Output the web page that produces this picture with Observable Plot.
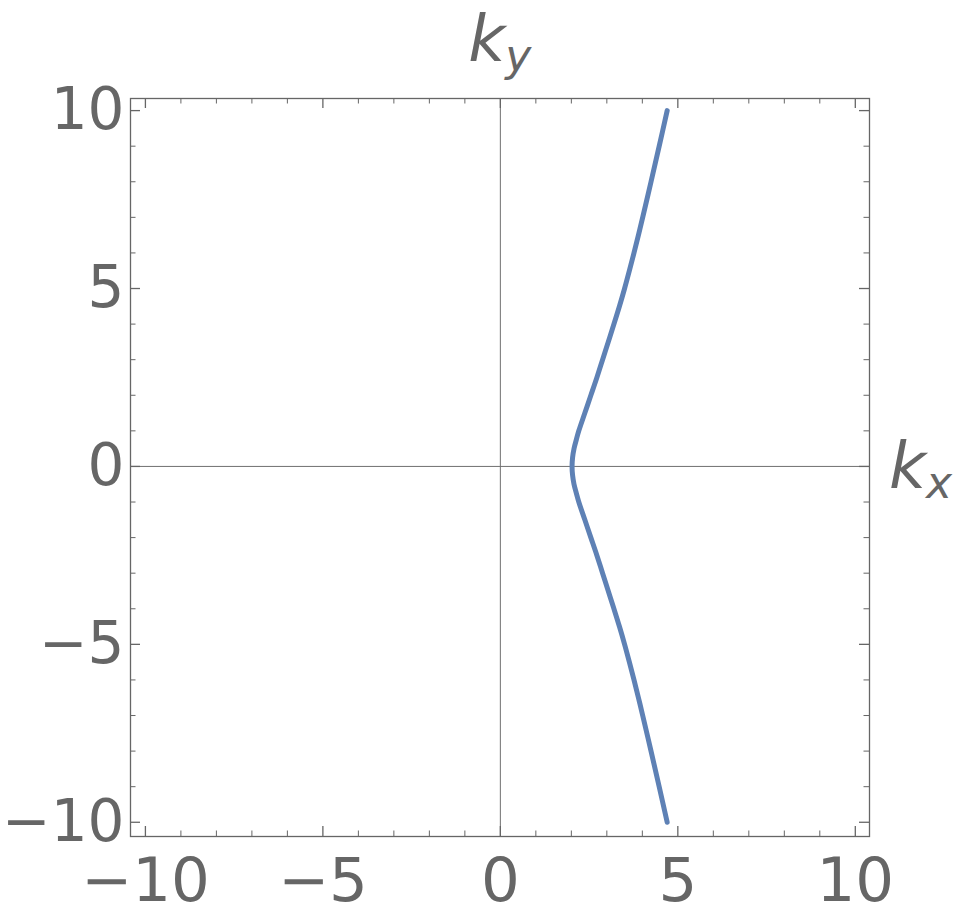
<!DOCTYPE html>
<html>
<head>
<meta charset="utf-8">
<script src="https://cdn.jsdelivr.net/npm/d3@7"></script>
<script src="https://cdn.jsdelivr.net/npm/@observablehq/plot@0.6"></script>
<style>
  html, body { margin: 0; padding: 0; background: #fff; }
</style>
</head>
<body>
<div id="chart"></div>
<script>
// Curve values (k_y, k_x)
const kyValues = [-10, -9, -8, -7, -6.5, -6, -5.5, -5, -4.5, -4, -3.5, -3, -2.5, -2, -1.5, -1, -0.75, -0.5, -0.25,
  0, 0.25, 0.5, 0.75, 1, 1.5, 2, 2.5, 3, 3.5, 4, 4.5, 5, 5.5, 6, 6.5, 7, 8, 9, 10];
const kxValues = [4.70, 4.475, 4.245, 4.01, 3.89, 3.765, 3.635, 3.50, 3.355, 3.20, 3.04, 2.88, 2.72, 2.55, 2.38, 2.21, 2.14, 2.075, 2.035,
  2.02, 2.035, 2.075, 2.14, 2.21, 2.38, 2.55, 2.72, 2.88, 3.04, 3.20, 3.355, 3.50, 3.635, 3.765, 3.89, 4.01, 4.245, 4.475, 4.70];

const majorTicks = [-10, -5, 0, 5, 10];
const minorTicks = [-9, -8, -7, -6, -4, -3, -2, -1, 1, 2, 3, 4, 6, 7, 8, 9];
const xLabel = {base: "k", sub: "x"};
const yLabel = {base: "k", sub: "y"};

const data = kyValues.map((ky, i) => ({ky, kx: kxValues[i]}));

const W = 960, H = 922;
const mTop = 98, mBottom = 86, mLeft = 130, mRight = 91;
const frameH = H - mTop - mBottom;
const frameW = W - mLeft - mRight;
const majorLen = 10, minorLen = 5.5;
const grey = "#666666";

const plot = Plot.plot({
  width: W,
  height: H,
  marginTop: mTop,
  marginBottom: mBottom,
  marginLeft: mLeft,
  marginRight: mRight,
  style: {fontFamily: "DejaVu Sans", fontSize: "61px", color: grey, background: "#fff"},
  x: {domain: [-10.42, 10.4]},
  y: {domain: [-10.4, 10.34]},
  marks: [
    Plot.ruleX([0], {stroke: "#707070", strokeWidth: 1}),
    Plot.ruleY([0], {stroke: "#707070", strokeWidth: 1}),
    // inward ticks: bottom & top
    Plot.tickX(majorTicks, {x: d => d, insetTop: frameH - majorLen, stroke: grey, strokeWidth: 1.3}),
    Plot.tickX(minorTicks, {x: d => d, insetTop: frameH - minorLen, stroke: grey, strokeWidth: 1}),
    Plot.tickX(majorTicks, {x: d => d, insetBottom: frameH - majorLen, stroke: grey, strokeWidth: 1.3}),
    Plot.tickX(minorTicks, {x: d => d, insetBottom: frameH - minorLen, stroke: grey, strokeWidth: 1}),
    // inward ticks: left & right
    Plot.tickY(majorTicks, {y: d => d, insetRight: frameW - majorLen, stroke: grey, strokeWidth: 1.3}),
    Plot.tickY(minorTicks, {y: d => d, insetRight: frameW - minorLen, stroke: grey, strokeWidth: 1}),
    Plot.tickY(majorTicks, {y: d => d, insetLeft: frameW - majorLen, stroke: grey, strokeWidth: 1.3}),
    Plot.tickY(minorTicks, {y: d => d, insetLeft: frameW - minorLen, stroke: grey, strokeWidth: 1}),
    Plot.axisX(majorTicks, {anchor: "bottom", tickSize: 0, tickPadding: 21, label: null, fill: grey}),
    Plot.axisY(majorTicks, {anchor: "left", tickSize: 0, tickPadding: 6, label: null, fill: grey, fontSize: 58}),
    Plot.frame({stroke: grey, strokeWidth: 1.3}),
    Plot.line(data, {x: "kx", y: "ky", curve: "catmull-rom", stroke: "#5E81B5", strokeWidth: 5})
  ]
});

document.getElementById("chart").appendChild(plot);

const xs = plot.scale("x"), ys = plot.scale("y");
const svg = d3.select(plot);

function addLabel(lbl, x, y, anchor) {
  const t = svg.append("text")
    .attr("x", x).attr("y", y)
    .attr("text-anchor", anchor)
    .attr("fill", grey)
    .style("font-family", "DejaVu Sans")
    .style("font-style", "italic")
    .style("font-size", "64px");
  t.append("tspan").text(lbl.base);
  t.append("tspan").attr("dy", 10).style("font-size", "44px").text(lbl.sub);
}

addLabel(yLabel, xs.apply(0), 61, "middle");
addLabel(xLabel, W - mRight + 20, ys.apply(0) + 22, "start");
</script>
</body>
</html>
